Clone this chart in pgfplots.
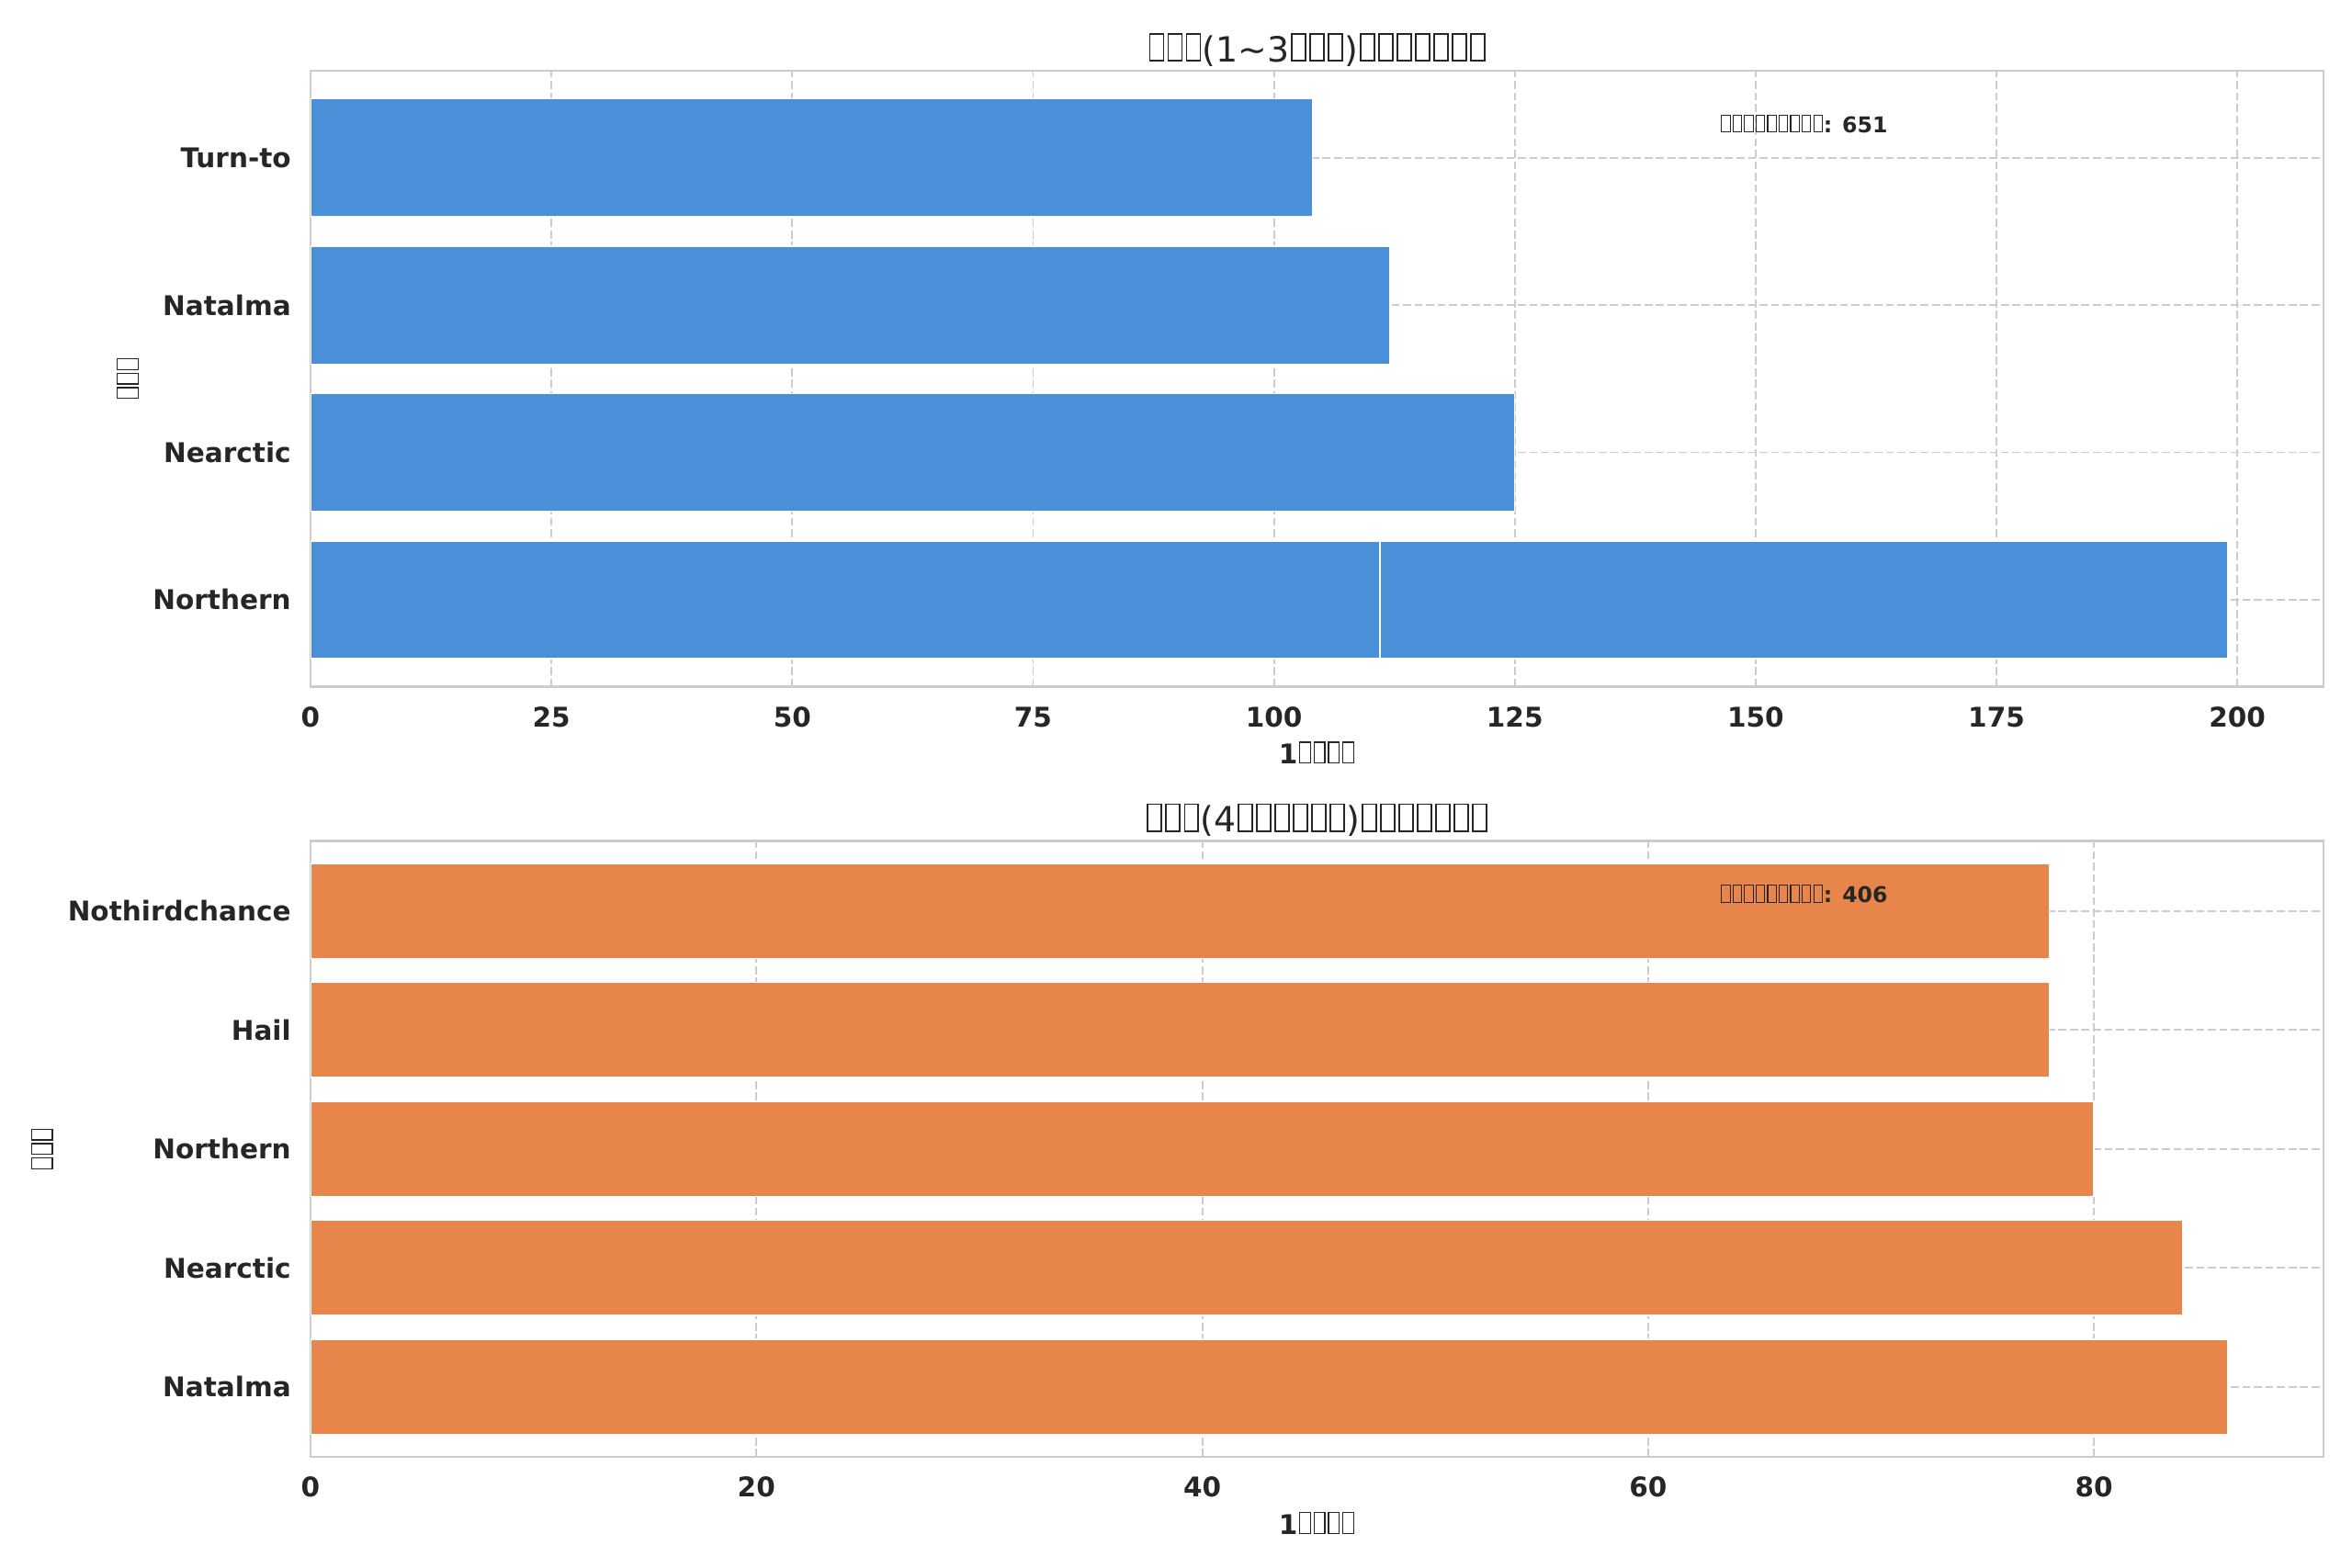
\documentclass[border=0pt]{standalone}
\usepackage{fontspec}
\setmainfont{DejaVu Sans}
\usepackage{pgfplots}
\pgfplotsset{compat=1.18}
\definecolor{txt}{HTML}{262626}
\definecolor{gridc}{HTML}{CCCCCC}
\definecolor{barblue}{HTML}{4A90D9}
\definecolor{barorange}{HTML}{E8854B}
\newcommand\T{\kern0.05em\hbox{\vrule width0.045em height0.82em depth0pt\vbox to0.82em{\hrule height0.045em width0.35em\vfill\hrule height0.045em width0.35em}\vrule width0.045em height0.82em depth0pt}\kern0.04em}
\pgfplotsset{
 myaxis/.style={
  scale only axis, width=927.8pt, height=284pt,
  xmin=0, ymin=-0.59,
  axis line style={gridc, line width=1pt},
  grid=major,
  major grid style={gridc, line width=0.8pt, dash pattern=on 3.7pt off 1.6pt},
  major tick length=0pt, tick style={draw=none},
  ticklabel style={font=\fontsize{12.5}{15}\selectfont\bfseries, text=txt},
  /pgf/number format/assume math mode=true,
  yticklabel style={xshift=-5.5pt},
  xticklabel style={anchor=base, yshift=-18.5pt},
  every axis title/.style={at={(0.5,1)}, anchor=base, yshift=4.2pt, font=\fontsize{16}{19}\selectfont, text=txt},
  every axis x label/.style={at={(axis description cs:0.5,0)}, anchor=base, yshift=-35.5pt, font=\fontsize{12.5}{15}\selectfont\bfseries, text=txt},
 }
}
\begin{document}
\begin{tikzpicture}
\path[use as bounding box] (0,0) rectangle (1084.05pt,722.7pt);
\begin{axis}[myaxis, at={(143.13pt,406.1pt)}, anchor=south west,
  xmax=208.95, ymax=3.59,
  xtick={0,25,50,75,100,125,150,175,200},
  ytick={0,1,2,3}, yticklabels={Northern,Nearctic,Natalma,Turn-to},
  title={\T\T\T(1\textasciitilde 3\T\T\T)\T\T\T\T\T\T\T},
  xlabel={1\T\T\T\T},
  every axis y label/.style={at={(axis description cs:0,0.5)}, xshift=-84.3pt, rotate=90, anchor=center, font=\fontsize{12.5}{15}\selectfont\bfseries, text=txt},
  ylabel={\T\T\T}]
\addplot[xbar, bar shift=0pt, bar width=0.8, fill=barblue, draw=white, line width=0.6pt] coordinates {(199,0) (125,1) (112,2) (104,3)};
\addplot[xbar, bar shift=0pt, bar width=0.8, fill=barblue, draw=white, line width=0.6pt] coordinates {(111,0)};
\node[anchor=base west, inner sep=0pt, font=\fontsize{10}{12}\selectfont\bfseries, text=txt] at (rel axis cs:0.7,0.9) {\T\T\T\T\T\T\T\T\T: 651};
\end{axis}
\begin{axis}[myaxis, at={(143.13pt,51pt)}, anchor=south west,
  xmax=90.3, ymax=4.59,
  xtick={0,20,40,60,80},
  ytick={0,1,2,3,4}, yticklabels={Natalma,Nearctic,Northern,Hail,Nothirdchance},
  title={\T\T\T(4\T\T\T\T\T\T)\T\T\T\T\T\T\T},
  xlabel={1\T\T\T\T},
  every axis y label/.style={at={(axis description cs:0,0.5)}, xshift=-123.8pt, rotate=90, anchor=center, font=\fontsize{12.5}{15}\selectfont\bfseries, text=txt},
  ylabel={\T\T\T}]
\addplot[xbar, bar shift=0pt, bar width=0.8, fill=barorange, draw=white, line width=0.6pt] coordinates {(86,0) (84,1) (80,2) (78,3) (78,4)};
\node[anchor=base west, inner sep=0pt, font=\fontsize{10}{12}\selectfont\bfseries, text=txt] at (rel axis cs:0.7,0.9) {\T\T\T\T\T\T\T\T\T: 406};
\end{axis}
\end{tikzpicture}
\end{document}
